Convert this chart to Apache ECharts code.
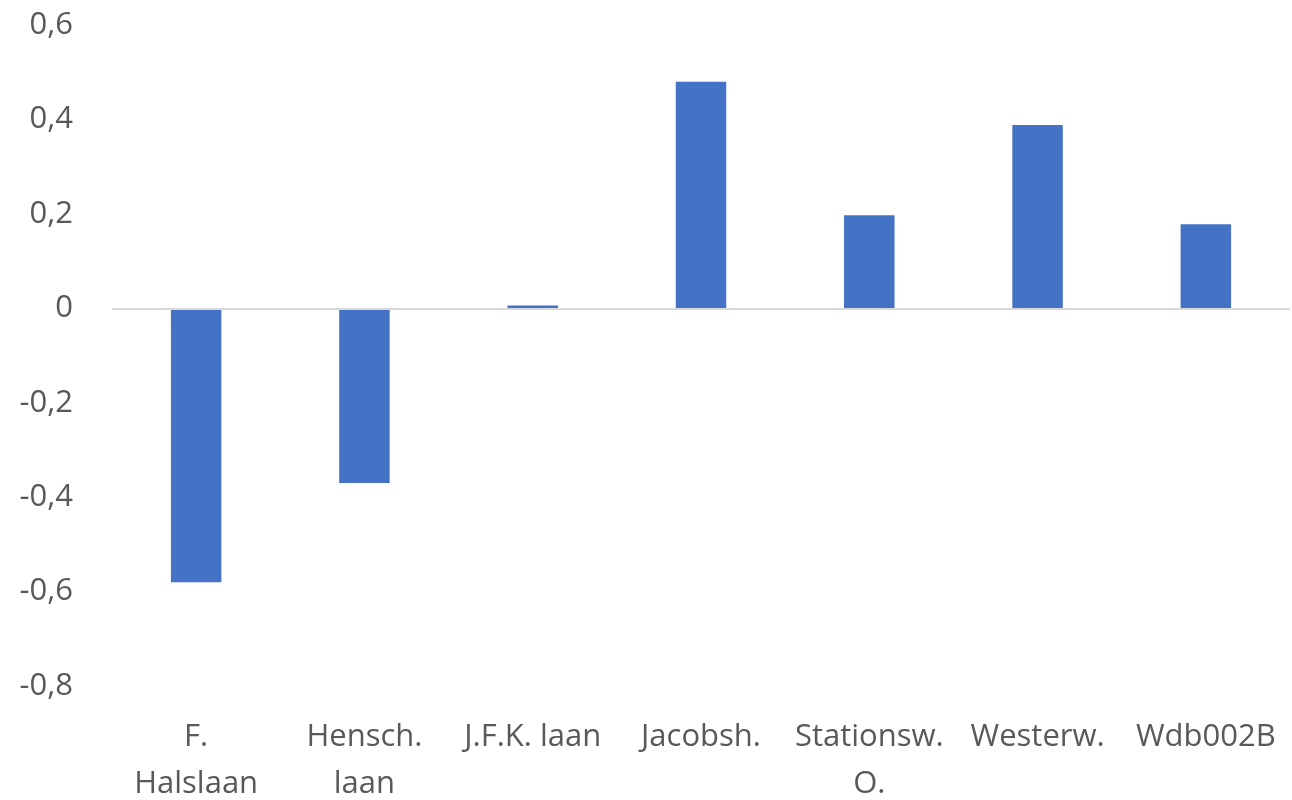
<!DOCTYPE html>
<html>
<head>
<meta charset="utf-8">
<script src="https://cdn.jsdelivr.net/npm/echarts@6/dist/echarts.min.js"></script>
<style>
  html, body { margin: 0; padding: 0; background: #fff; }
  #chart { width: 1292px; height: 800px; }
</style>
</head>
<body>
<div id="chart"></div>
<script>
  var categories = ['F.\nHalslaan', 'Hensch.\nlaan', 'J.F.K. laan', 'Jacobsh.', 'Stationsw.\nO.', 'Westerw.', 'Wdb002B']
  var values = [-0.58, -0.37, 0.006, 0.48, 0.197, 0.388, 0.178]
  var yTicks = { min: -0.8, max: 0.6, interval: 0.2 }

  var chart = echarts.init(document.getElementById('chart'))
  chart.setOption({
    animation: false,
    textStyle: { fontFamily: 'Open Sans' },
    grid: { left: 112, right: 2, top: 25, bottom: 114, outerBoundsMode: 'none', containLabel: false },
    xAxis: {
      type: 'category',
      data: categories,
      axisLine: { show: false, onZero: false },
      axisTick: { show: false },
      splitLine: { show: false },
      axisLabel: {
        color: '#595959',
        fontSize: 31,
        lineHeight: 47,
        margin: 28,
        interval: 0
      }
    },
    yAxis: {
      type: 'value',
      min: yTicks.min,
      max: yTicks.max,
      interval: yTicks.interval,
      axisLine: { show: false },
      axisTick: { show: false },
      splitLine: { show: false },
      axisLabel: {
        color: '#595959',
        fontSize: 31,
        margin: 39,
        formatter: function (v) {
          var r = Math.round(v * 10) / 10
          return r === 0 ? '0' : r.toFixed(1).replace('.', ',')
        }
      }
    },
    series: [{
      type: 'bar',
      data: values,
      barWidth: '30%',
      itemStyle: { color: '#4472c4' },
      markLine: {
        silent: true,
        symbol: 'none',
        label: { show: false },
        lineStyle: { color: '#d9d9d9', width: 2, type: 'solid' },
        data: [{ yAxis: 0 }]
      }
    }]
  })
</script>
</body>
</html>
